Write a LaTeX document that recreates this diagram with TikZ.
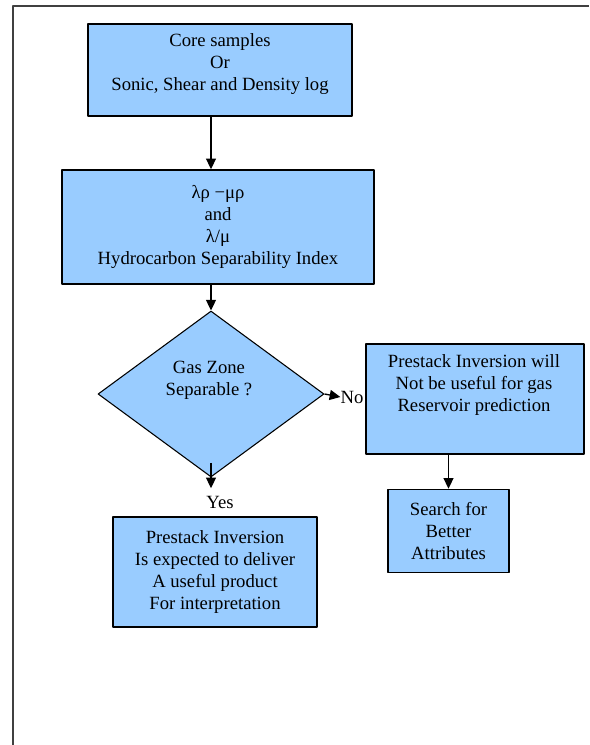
\documentclass[tikz,border=0pt]{standalone}
\usepackage{fontspec}
\setmainfont{Liberation Serif}
\usetikzlibrary{arrows.meta,positioning,shapes.geometric}
\definecolor{boxblue}{HTML}{99CCFF}

\begin{document}
\begin{tikzpicture}[x=0.75pt,y=-0.75pt,line join=round,
  every node/.style={font=\fontsize{14}{16.5}\selectfont},
  box/.style={draw,line width=1.2pt,fill=boxblue,align=center,inner sep=0pt},
  decision/.style={diamond,draw,line width=0.8pt,fill=boxblue,inner sep=0pt},
  arr/.style={-{Triangle[length=8pt,width=7.5pt]},line width=1pt}]
\useasboundingbox (0,0) rectangle (589,745);
\draw[line width=1.5pt,black!75] (13,745)--(13,6)--(589,6);
% boxes
\node[box,minimum width=198pt,minimum height=69pt] (core) at (220,70) {};
\node[align=center] (coretext) at (220,64)
  {Core samples\\Or\\Sonic, Shear and Density log};
\node[box,minimum width=234pt,minimum height=85.5pt] (hsi) at (218,227)
  {λρ −μρ\\and\\λ/μ\\Hydrocarbon Separability Index};
\node[decision,minimum width=169.5pt,minimum height=124.5pt] (gas) at (211,394) {};
\node[align=center] (gastext) at (209,380) {Gas Zone\\Separable ?};
\node[box,minimum width=163.5pt,minimum height=82.5pt] (nouse) at (475,399) {};
\node[align=center] (nousetext) at (474,385)
  {Prestack Inversion will\\Not be useful for gas\\Reservoir prediction};
\node[box,minimum width=90.75pt,minimum height=62.25pt] (search) at (448.5,531)
  {Search for\\Better\\Attributes};
\node[box,minimum width=153pt,minimum height=82.5pt] (useful) at (215,572)
  {Prestack Inversion\\Is expected to deliver\\A useful product\\For interpretation};
% labels
\node[inner sep=0pt] (yes) at (220,502) {Yes};
\node[inner sep=0pt] (no) at (352,397) {No};
% arrows
\draw[arr] (core.south -| gas.north) -- (hsi.north -| gas.north);
\draw[arr] (hsi.south -| gas.north) -- (gas.north);
\draw[arr] ([yshift=11pt]gas.south) -- ([yshift=-8pt]gas.south);
\draw[arr] (gas.east) -- (no.west);
\draw[arr] (nouse.south -| search.north) -- (search.north);
\end{tikzpicture}
\end{document}
